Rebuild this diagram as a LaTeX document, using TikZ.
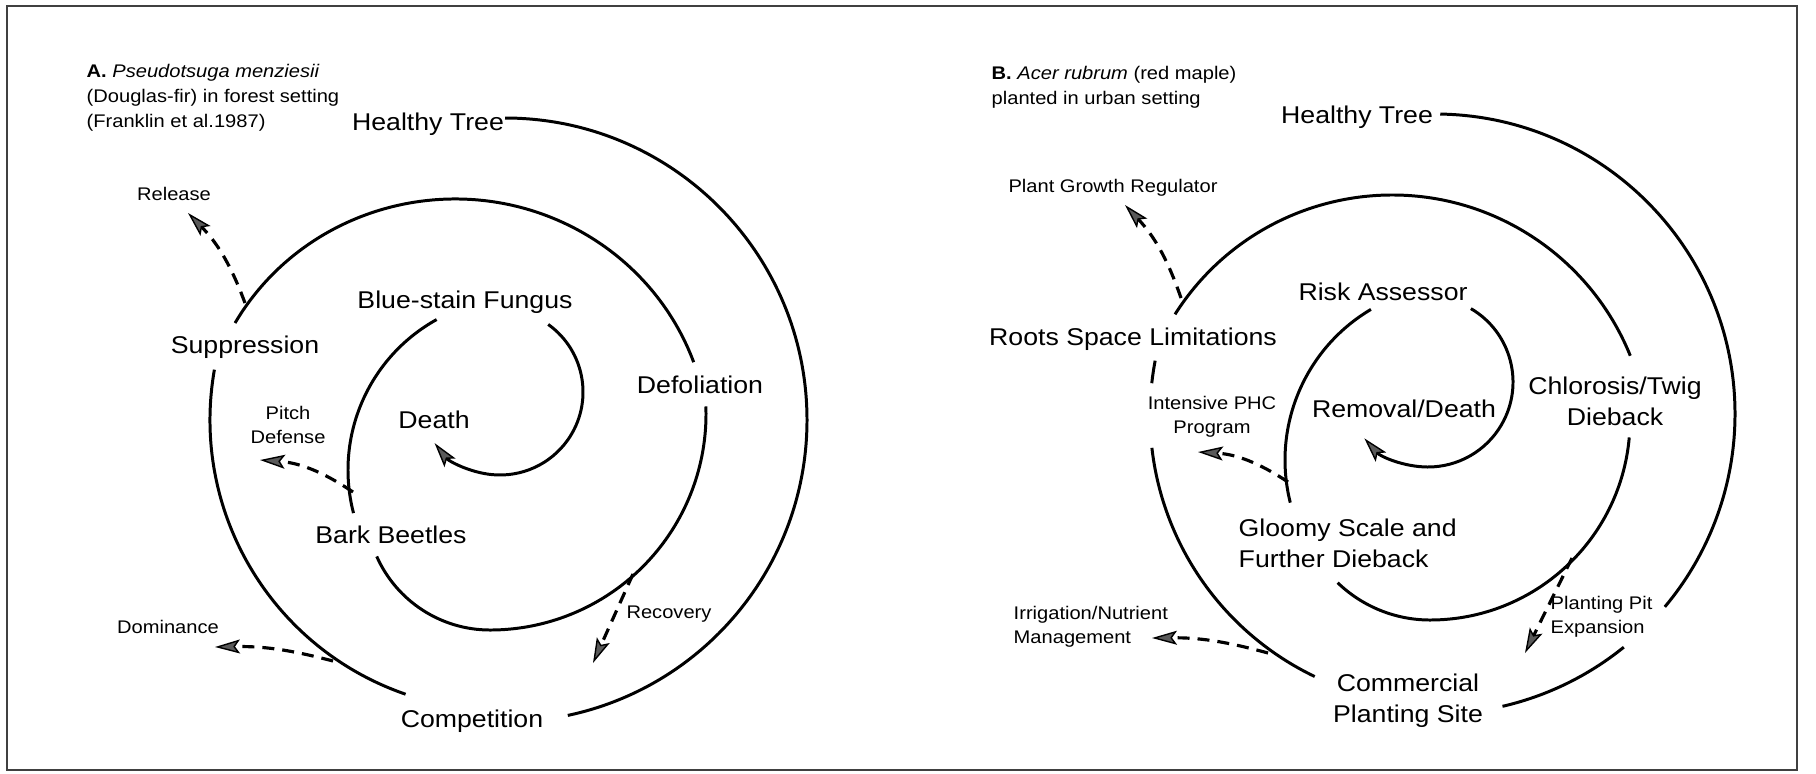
\documentclass[tikz,border=0pt]{standalone}
\usepackage{fontspec}
\setmainfont{Liberation Sans}[FakeStretch=1.1]
\usetikzlibrary{arrows.meta}

\begin{document}
\begin{tikzpicture}[
  ring/.style={line width=0.85pt},
  graytip/.style={-{Stealth[length=2.5mm,width=1.4mm,inset=0.5mm,fill=black!65,line width=0.4pt]}},
  dasharrow/.style={line width=0.9pt,dash pattern=on 0.12cm off 0.08cm,graytip},
  spiralarrow/.style={ring,graytip},
  big/.style={font=\fontsize{6.9}{8.8}\selectfont,inner sep=0pt,anchor=base},
  small/.style={font=\fontsize{5.2}{6.6}\selectfont,inner sep=0pt,anchor=base},
  head/.style={font=\fontsize{5.2}{7}\selectfont,inner sep=0pt,anchor=base west,align=left}]
\useasboundingbox (0,0) rectangle (18.16,-7.73);
\draw[line width=0.6pt,black!75] (0.07,-0.06) rectangle (17.97,-7.70);

% A: Douglas-fir
\node[head] (hdrA) at (0.86,-1.27) {\textbf{A.} \textit{Pseudotsuga menziesii}\\(Douglas-fir) in forest setting\\(Franklin et al.1987)};
\node[big] (htA) at (4.28,-1.30) {Healthy Tree};
\node[small] (rlsA) at (1.74,-2.00) {Release};
\node[big] (bsfA) at (4.65,-3.08) {Blue-stain Fungus};
\node[big] (supA) at (2.45,-3.53) {Suppression};
\node[big] (defA) at (7.00,-3.93) {Defoliation};
\node[big] (dthA) at (4.34,-4.28) {Death};
\node[small,align=center] (pdA) at (2.88,-4.43) {Pitch\\Defense};
\node[big] (bbA) at (3.91,-5.43) {Bark Beetles};
\node[small] (recA) at (6.69,-6.18) {Recovery};
\node[small] (domA) at (1.68,-6.33) {Dominance};
\node[big] (cmpA) at (4.72,-7.27) {Competition};

\draw[ring] (5.05,-4.20) ++(90:3.02) arc[start angle=90,end angle=-78,radius=3.02];
\draw[ring] (5.00,-4.20) ++(251:2.90) arc[start angle=251,end angle=170,radius=2.90];
\draw[ring] (4.55,-4.47) ++(150:2.54 and 2.48) arc[start angle=150,end angle=20,x radius=2.54,y radius=2.48];
\draw[ring] (4.90,-4.14) ++(2:2.16) arc[start angle=2,end angle=-90,radius=2.16] arc[start angle=-90,end angle=-156,radius=1.24];
\draw[ring] (5.20,-4.70) ++(194.5:1.72) arc[start angle=194.5,end angle=119,radius=1.72];
\draw[spiralarrow] (5.00,-3.92) ++(54.5:0.83) arc[start angle=54.5,end angle=-142,radius=0.83];

\coordinate (rlsA-s) at (2.45,-3.03); \coordinate (rlsA-e) at (1.88,-2.13);
\coordinate (pdA-s) at (3.53,-4.92);  \coordinate (pdA-e) at (2.60,-4.60);
\coordinate (domA-s) at (3.33,-6.61); \coordinate (domA-e) at (2.15,-6.47);
\coordinate (recA-s) at (6.33,-5.74); \coordinate (recA-e) at (5.93,-6.63);
\draw[dasharrow] (rlsA-s) to[bend right=12] (rlsA-e);
\draw[dasharrow] (pdA-s) to[bend right=15] (pdA-e);
\draw[dasharrow] (domA-s) to[bend right=8] (domA-e);
\draw[dasharrow] (recA-s) -- (recA-e);

% B: red maple
\node[head] (hdrB) at (9.91,-1.04) {\textbf{B.} \textit{Acer rubrum} (red maple)\\planted in urban setting};
\node[big] (htB) at (13.57,-1.23) {Healthy Tree};
\node[small] (pgrB) at (11.13,-1.92) {Plant Growth Regulator};
\node[big] (raB) at (13.83,-3.00) {Risk Assessor};
\node[big] (rslB) at (11.33,-3.45) {Roots Space Limitations};
\node[big,align=center] (ctdB) at (16.15,-4.25) {Chlorosis/Twig\\Dieback};
\node[small,align=center] (phcB) at (12.12,-4.33) {Intensive PHC\\Program};
\node[big] (rdB) at (14.04,-4.17) {Removal/Death};
\node[big,anchor=base west,align=left] (gsB) at (12.38,-5.67) {Gloomy Scale and\\Further Dieback};
\node[small,anchor=base west,align=left] (ppB) at (15.50,-6.33) {Planting Pit\\Expansion};
\node[small,anchor=base west,align=left] (irrB) at (10.13,-6.43) {Irrigation/Nutrient\\Management};
\node[big,align=center] (cpsB) at (14.08,-7.22) {Commercial\\Planting Site};

\draw[ring] (14.35,-4.14) ++(89:3.00) arc[start angle=89,end angle=-40,radius=3.00];
\draw[ring] (14.35,-4.14) ++(-51:3.00) arc[start angle=-51,end angle=-77,radius=3.00];
\draw[ring] (14.40,-4.15) ++(244.4:2.90) arc[start angle=244.4,end angle=186.5,radius=2.90];
\draw[ring] (14.40,-4.15) ++(173.7:2.90) arc[start angle=173.7,end angle=169.2,radius=2.90];
\draw[ring] (13.92,-4.52) ++(147.6:2.57) arc[start angle=147.6,end angle=22,radius=2.57];
\draw[ring] (14.30,-4.20) ++(-5:2.00) arc[start angle=-5,end angle=-90,radius=2.00] arc[start angle=-90,end angle=-134,radius=1.33];
\draw[ring] (14.60,-4.60) ++(194.1:1.75) arc[start angle=194.1,end angle=120.6,radius=1.75];
\draw[spiralarrow] (14.28,-3.82) ++(59.7:0.85) arc[start angle=59.7,end angle=-138.5,radius=0.85];

\coordinate (pgrB-s) at (11.81,-2.98); \coordinate (pgrB-e) at (11.25,-2.05);
\coordinate (phcB-s) at (12.88,-4.82); \coordinate (phcB-e) at (11.98,-4.52);
\coordinate (irrB-s) at (12.68,-6.53); \coordinate (irrB-e) at (11.52,-6.38);
\coordinate (ppB-s) at (15.72,-5.58);  \coordinate (ppB-e) at (15.25,-6.53);
\draw[dasharrow] (pgrB-s) to[bend right=12] (pgrB-e);
\draw[dasharrow] (phcB-s) to[bend right=15] (phcB-e);
\draw[dasharrow] (irrB-s) to[bend right=8] (irrB-e);
\draw[dasharrow] (ppB-s) -- (ppB-e);
\end{tikzpicture}
\end{document}
